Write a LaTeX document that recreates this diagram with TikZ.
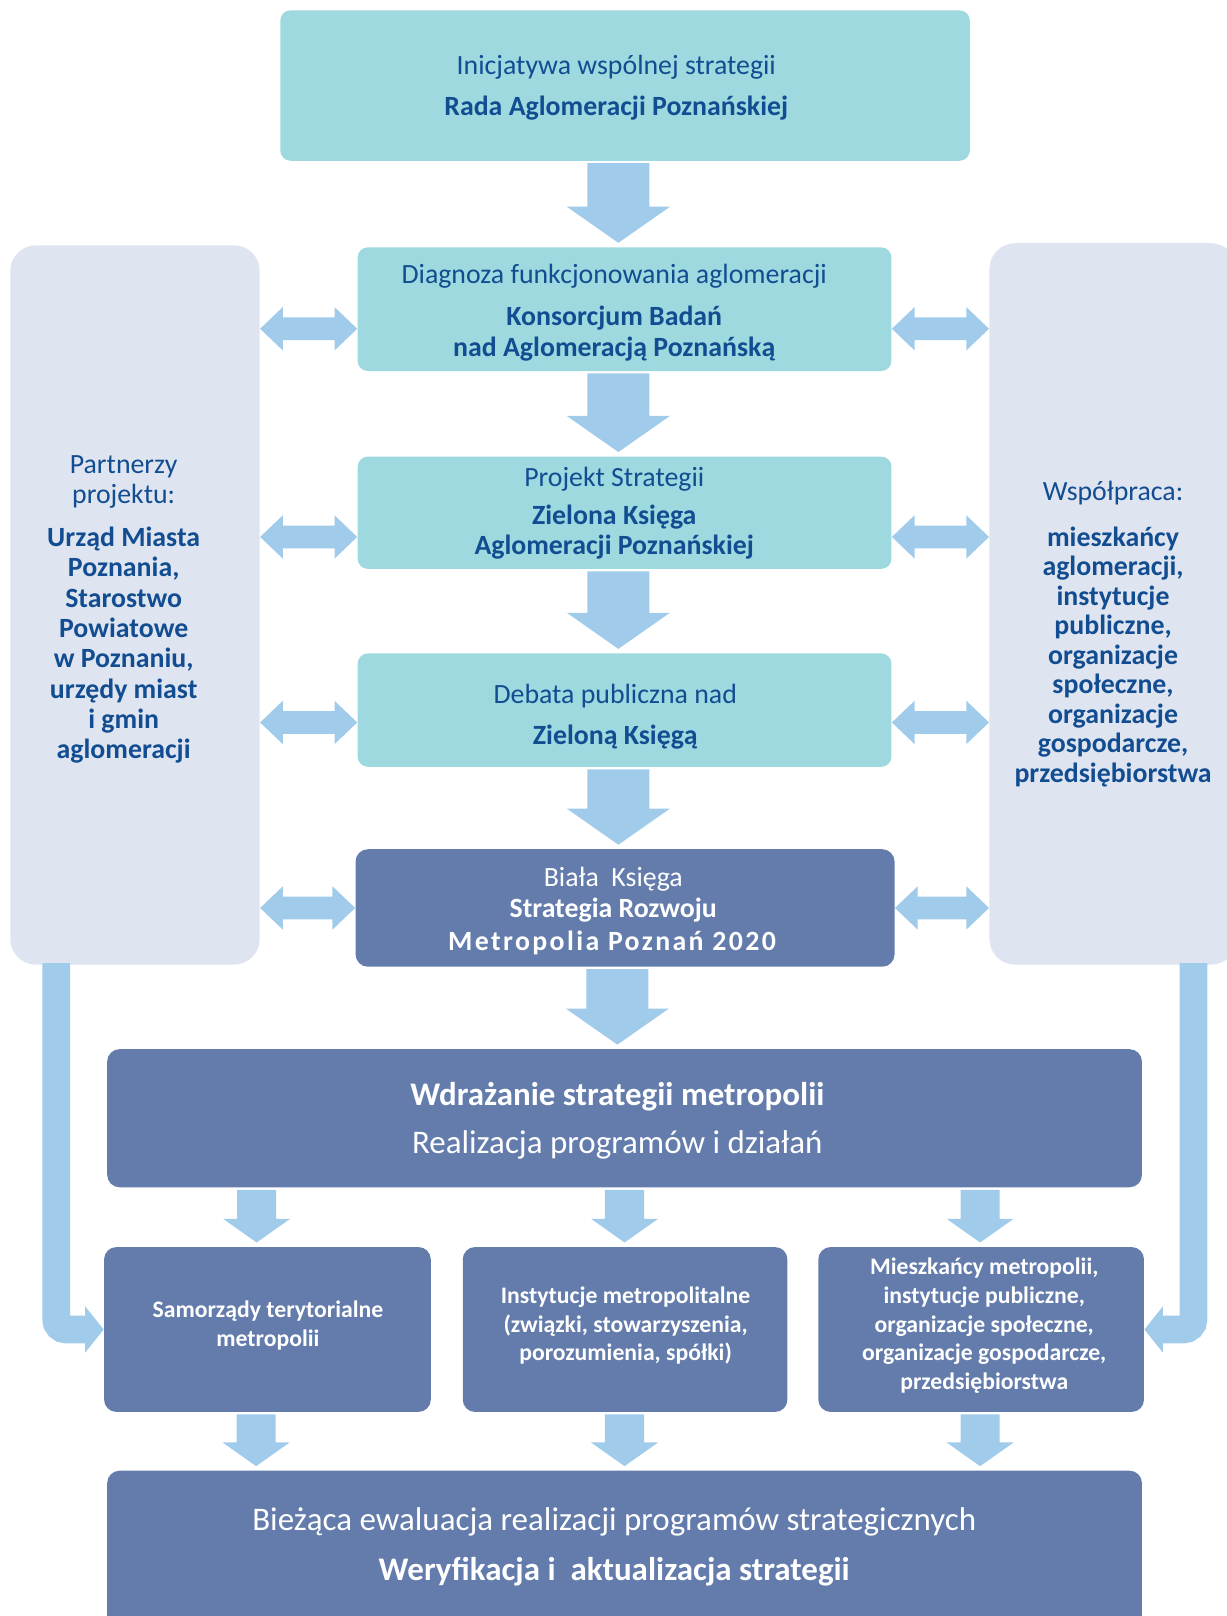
\documentclass[tikz,border=0pt]{standalone}
\usepackage{fontspec}
\setmainfont{Carlito}
\usetikzlibrary{calc}
\definecolor{tealc}{RGB}{157,217,223}
\definecolor{sidec}{RGB}{222,229,240}
\definecolor{darkc}{RGB}{99,124,172}
\definecolor{arrc}{RGB}{160,203,235}
\definecolor{navy}{RGB}{18,76,145}
\newcommand\tlines[1]{\begin{tabular}[t]{@{}c@{}}#1\end{tabular}}
% #1 from node, #2 to node, #3 point giving x, #4 half stem, #5 half head, #6 head length
\newcommand\blockdown[6]{%
  \fill[arrfill] let \p1=(#1.south), \p2=(#2.north), \p3=(#3) in
  (\x3-#4,\y1-1pt) -- (\x3+#4,\y1-1pt) -- (\x3+#4,\y2+2pt+#6) -- (\x3+#5,\y2+2pt+#6)
  -- (\x3,\y2+2pt) -- (\x3-#5,\y2+2pt+#6) -- (\x3-#4,\y2+2pt+#6) -- cycle;}
% #1 left node, #2 right node, #3 y
\newcommand\blockdbl[3]{%
  \fill[arrfill] let \p1=(#1.east), \p2=(#2.west), \p3=(0,#3) in
  (\x1,\y3) -- (\x1+11pt,\y3+10.5pt) -- (\x1+11pt,\y3+5.5pt) -- (\x2-11pt,\y3+5.5pt)
  -- (\x2-11pt,\y3+10.5pt) -- (\x2,\y3) -- (\x2-11pt,\y3-10.5pt) -- (\x2-11pt,\y3-5.5pt)
  -- (\x1+11pt,\y3-5.5pt) -- (\x1+11pt,\y3-10.5pt) -- cycle;}
\begin{document}
\begin{tikzpicture}[x=0.5pt,y=-0.5pt,
  box/.style={rectangle, inner sep=0pt, draw=none},
  tealbox/.style={box, fill=tealc, rounded corners=5pt},
  sidebox/.style={box, fill=sidec, rounded corners=12.5pt},
  darkbox/.style={box, fill=darkc, rounded corners=6pt},
  txt/.style={inner sep=0pt, anchor=base, yshift=-1.75pt},
  navytxt/.style={txt, text=navy, font=\fontsize{13.5}{15}\selectfont},
  whitetxt/.style={txt, text=white, font=\fontsize{13.5}{15}\selectfont},
  smalltxt/.style={txt, text=white, font=\fontsize{11.5}{14}\selectfont\bfseries},
  bigtxt/.style={txt, text=white, font=\fontsize{16}{18}\selectfont},
  arrfill/.style={fill=arrc},
  rail/.style={draw=arrc, line width=13.5pt, rounded corners=5pt, shorten >=8.5pt},
]
\useasboundingbox (0,0) rectangle (1190,1568);
\fill[white] (0,0) rectangle (1190,1568);

% boxes
\node[tealbox, minimum width=334.5pt, minimum height=73pt] (top) at (606.5,83) {};
\node[sidebox, minimum width=121pt, minimum height=349pt] (lside) at (131,587) {};
\node[sidebox, minimum width=120pt, minimum height=350pt] (rside) at (1080,586) {};
\node[tealbox, minimum width=259pt, minimum height=60pt] (diag) at (606,300) {};
\node[tealbox, minimum width=259pt, minimum height=54.5pt] (proj) at (606,497.5) {};
\node[tealbox, minimum width=259pt, minimum height=55pt] (deb) at (606,689) {};
\node[darkbox, minimum width=261.5pt, minimum height=57pt] (biala) at (606.5,881) {};
\node[darkbox, minimum width=502pt, minimum height=67pt] (wdr) at (606,1085) {};
\node[darkbox, minimum width=158.5pt, minimum height=80pt] (b1) at (259.5,1290) {};
\node[darkbox, minimum width=157.5pt, minimum height=80pt] (b2) at (606.5,1290) {};
\node[darkbox, minimum width=158pt, minimum height=80pt] (b3) at (952,1290) {};
\node[darkbox, minimum width=502pt, minimum height=79pt] (ewal) at (606,1506) {};

% rails from side boxes
\coordinate (lrail) at (54.5,0);
\coordinate (rrail) at (1158,0);
\draw[rail] ($(lrail |- lside.south)+(0,-2)$) |- (b1.west);
\fill[arrfill] let \p1=(b1.west) in (\x1,\y1) -- (\x1-9pt,\y1+11.25pt) -- (\x1-9pt,\y1-11.25pt) -- cycle;
\draw[rail] ($(rrail |- rside.south)+(0,-2)$) |- (b3.east);
\fill[arrfill] let \p1=(b3.east) in (\x1,\y1) -- (\x1+9pt,\y1+11.25pt) -- (\x1+9pt,\y1-11.25pt) -- cycle;

% down arrows
\blockdown{top}{diag}{600,0}{15pt}{25pt}{17.5pt}
\blockdown{diag}{proj}{600,0}{15pt}{25pt}{17.5pt}
\blockdown{proj}{deb}{600,0}{15pt}{25pt}{17.5pt}
\blockdown{deb}{biala}{600,0}{15pt}{25pt}{17.5pt}
\blockdown{biala}{wdr}{599,0}{15pt}{25pt}{17.5pt}
\blockdown{wdr}{b1}{249,0}{9.5pt}{16.25pt}{11.5pt}
\blockdown{wdr}{b2}{606,0}{9.5pt}{16.25pt}{11.5pt}
\blockdown{wdr}{b3}{951,0}{9.5pt}{16.25pt}{11.5pt}
\blockdown{b1}{ewal}{248.5,0}{9.5pt}{16.25pt}{11.5pt}
\blockdown{b2}{ewal}{606,0}{9.5pt}{16.25pt}{11.5pt}
\blockdown{b3}{ewal}{951,0}{9.5pt}{16.25pt}{11.5pt}

% double arrows
\blockdbl{lside}{diag}{319}
\blockdbl{lside}{proj}{521}
\blockdbl{lside}{deb}{701}
\blockdbl{lside}{biala}{881}
\blockdbl{diag}{rside}{319}
\blockdbl{proj}{rside}{521}
\blockdbl{deb}{rside}{701}
\blockdbl{biala}{rside}{881}

% texts
\node[navytxt] (ttop) at (598,69) {\tlines{Inicjatywa wspólnej strategii\\[5pt]\textbf{Rada Aglomeracji Poznańskiej}}};
\node[navytxt] (tdiag) at (596,272) {\tlines{Diagnoza funkcjonowania aglomeracji\\[5pt]\textbf{Konsorcjum Badań}\\\textbf{nad Aglomeracją Poznańską}}};
\node[navytxt] (tproj) at (596,469) {\tlines{Projekt Strategii\\[3pt]\textbf{Zielona Księga}\\\textbf{Aglomeracji Poznańskiej}}};
\node[navytxt] (tdeb) at (597,679) {\tlines{Debata publiczna nad\\[5pt]\textbf{Zieloną Księgą}}};
\node[whitetxt] (tbiala) at (595,857) {\tlines{Biała~~Księga\\\textbf{Strategia Rozwoju}\\[1pt]\textbf{\addfontfeature{LetterSpace=8.6}Metropolia Poznań 2020}}};
\node[navytxt, font=\fontsize{13.5}{14.7}\selectfont] (tl) at (120,456) {\tlines{Partnerzy\\projektu:\\[6pt]\textbf{Urząd Miasta}\\\textbf{Poznania,}\\\textbf{Starostwo}\\\textbf{Powiatowe}\\\textbf{w Poznaniu,}\\\textbf{urzędy miast}\\\textbf{i gmin}\\\textbf{aglomeracji}}};
\node[navytxt, font=\fontsize{13.5}{14.3}\selectfont] (tr) at (1080,482) {\tlines{Współpraca:\\[8pt]\textbf{mieszkańcy}\\\textbf{aglomeracji,}\\\textbf{instytucje}\\\textbf{publiczne,}\\\textbf{organizacje}\\\textbf{społeczne,}\\\textbf{organizacje}\\\textbf{gospodarcze,}\\\textbf{przedsiębiorstwa}}};
\node[bigtxt] (twdr) at (599,1069) {\tlines{\textbf{Wdrażanie strategii metropolii}\\[5.5pt]Realizacja programów i działań}};
\node[smalltxt] (tb1) at (260,1275) {\tlines{Samorządy terytorialne\\metropolii}};
\node[smalltxt] (tb2) at (607,1261) {\tlines{Instytucje metropolitalne\\(związki, stowarzyszenia,\\porozumienia, spółki)}};
\node[smalltxt] (tb3) at (955,1233) {\tlines{Mieszkańcy metropolii,\\instytucje publiczne,\\organizacje społeczne,\\organizacje gospodarcze,\\przedsiębiorstwa}};
\node[bigtxt] (tewal) at (596,1482) {\tlines{Bieżąca ewaluacja realizacji programów strategicznych\\[6pt]\textbf{Weryfikacja i~~aktualizacja strategii}}};
\end{tikzpicture}
\end{document}
